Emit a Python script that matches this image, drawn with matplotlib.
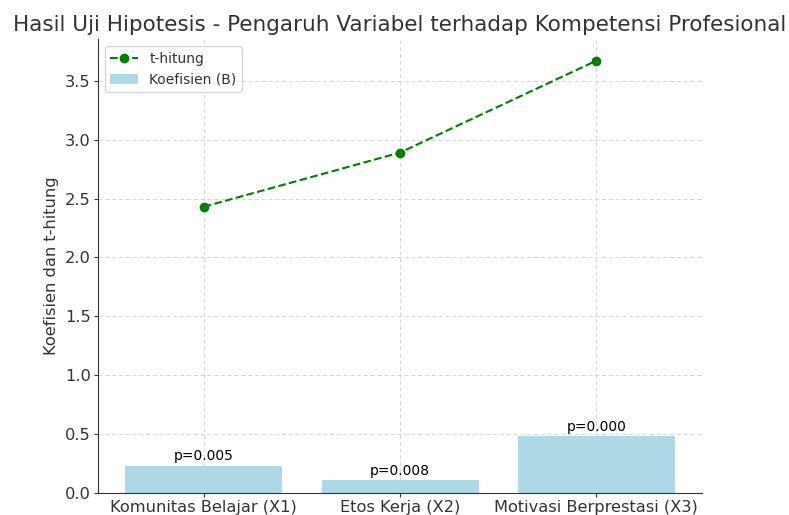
import matplotlib
matplotlib.use("Agg")
import matplotlib.pyplot as plt
import numpy as np

variabel = ["Komunitas Belajar (X1)", "Etos Kerja (X2)", "Motivasi Berprestasi (X3)"]
koefisien = [0.23, 0.11, 0.48]
t_hitung = [2.43, 2.89, 3.67]
p_value = ["p=0.005", "p=0.008", "p=0.000"]

teks = "#333333"

fig, ax = plt.subplots(figsize=(7.89, 5.15), dpi=100)

x = np.arange(len(variabel))
ax.bar(x, koefisien, color="lightblue", label="Koefisien (B)", zorder=2)
ax.plot(x, t_hitung, color="green", linestyle="--", marker="o", markersize=6,
        label="t-hitung", zorder=3)

for i in range(len(x)):
    ax.text(x[i], koefisien[i] + 0.02, p_value[i], ha="center", va="bottom",
            fontsize=10, color="black")

ax.set_xticks(x)
ax.set_xticklabels(variabel, fontsize=11.7, color=teks)
ax.tick_params(axis="both", length=3, pad=2, colors=teks, labelsize=11.7)
ax.set_ylabel("Koefisien dan t-hitung", fontsize=11.7, color=teks)
ax.set_title("Hasil Uji Hipotesis - Pengaruh Variabel terhadap Kompetensi Profesional",
             fontsize=15.5, color=teks)
ax.grid(True, linestyle=(0, (4, 3)), color="#d4d4d4", linewidth=0.7, zorder=0)
ax.set_axisbelow(True)
ax.spines["top"].set_visible(False)
ax.spines["right"].set_visible(False)
ax.spines["left"].set_color(teks)
ax.spines["bottom"].set_color(teks)
leg = ax.legend(loc="upper left", fontsize=10)
for t in leg.get_texts():
    t.set_color(teks)

plt.subplots_adjust(left=0.124, right=0.89, bottom=0.043, top=0.924)
plt.savefig("out.png")
